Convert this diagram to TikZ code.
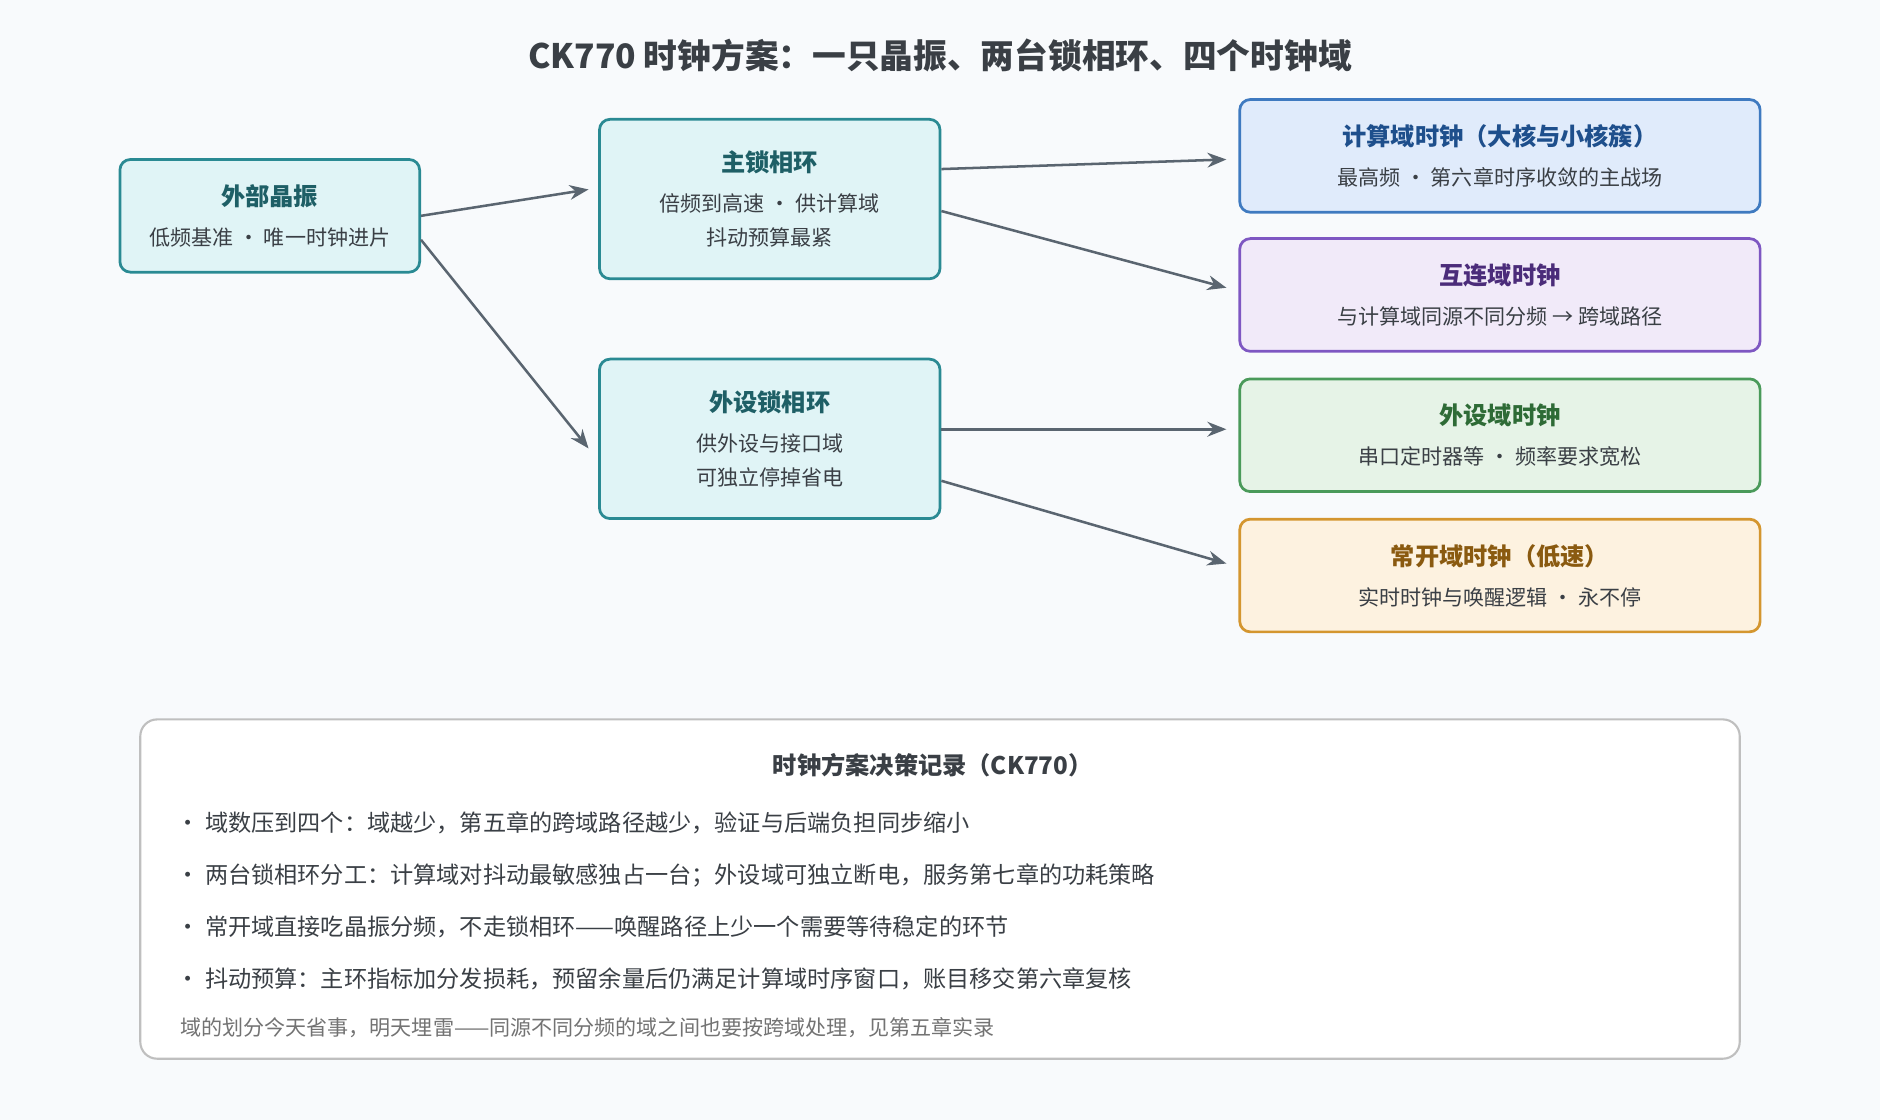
\documentclass[tikz,border=0pt]{standalone}
\usepackage{fontspec}
\setmainfont{Noto Sans CJK SC}
\usetikzlibrary{positioning,arrows.meta}
\definecolor{bgc}{HTML}{F8FAFC}
\definecolor{arr}{HTML}{5A6570}
\definecolor{txt}{HTML}{3A3F45}
\definecolor{tealF}{HTML}{E0F4F6}\definecolor{tealD}{HTML}{2A8A93}\definecolor{tealT}{HTML}{1E5F66}
\definecolor{blueF}{HTML}{E0EBFB}\definecolor{blueD}{HTML}{3F7AC0}\definecolor{blueT}{HTML}{1E4F8C}
\definecolor{purpF}{HTML}{F1EAF9}\definecolor{purpD}{HTML}{7E57C2}\definecolor{purpT}{HTML}{4B2C7A}
\definecolor{grnF}{HTML}{E6F3E7}\definecolor{grnD}{HTML}{4A9A5A}\definecolor{grnT}{HTML}{2E6B36}
\definecolor{orgF}{HTML}{FDF2E0}\definecolor{orgD}{HTML}{D4962F}\definecolor{orgT}{HTML}{8A5A10}
\tikzset{
  box/.style={draw=#1D, fill=#1F, line width=1.3pt, rounded corners=5pt, align=center, text=txt, font=\fontsize{10}{16}\selectfont},
  link/.style={draw=arr, line width=1.2pt, -{Stealth[length=9pt,width=7pt]}},
}
\newcommand{\hd}[2]{{\fontsize{11.5}{16}\selectfont\bfseries\color{#1}#2}\\[3pt]}
\begin{document}
\begin{tikzpicture}[x=0.02cm, y=-0.02cm]
  \fill[bgc] (0,0) rectangle (1568,934);
  \useasboundingbox (0,0) rectangle (1568,934);

  \node[font=\fontsize{16}{20}\selectfont\bfseries, text=txt] (title) at (784,46) {CK770 时钟方案：一只晶振、两台锁相环、四个时钟域};

  % sources and PLLs
  \node[box=teal, minimum width=250*0.02cm, minimum height=94*0.02cm] (xo) at (225,180) {\hd{tealT}{外部晶振}低频基准 · 唯一时钟进片};
  \node[box=teal, minimum width=284*0.02cm, minimum height=133*0.02cm] (pllm) at (642,166) {\hd{tealT}{主锁相环}倍频到高速 · 供计算域\\抖动预算最紧};
  \node[box=teal, minimum width=284*0.02cm, minimum height=133*0.02cm] (pllp) at (642,366) {\hd{tealT}{外设锁相环}供外设与接口域\\可独立停掉省电};

  % clock domains
  \node[box=blue, minimum width=434*0.02cm, minimum height=94*0.02cm] (dcpu) at (1251,130) {\hd{blueT}{计算域时钟（大核与小核簇）}最高频 · 第六章时序收敛的主战场};
  \node[box=purp, minimum width=434*0.02cm, minimum height=94*0.02cm] (dnoc) at (1251,246) {\hd{purpT}{互连域时钟}与计算域同源不同分频 → 跨域路径};
  \node[box=grn, minimum width=434*0.02cm, minimum height=94*0.02cm] (dper) at (1251,363) {\hd{grnT}{外设域时钟}串口定时器等 · 频率要求宽松};
  \node[box=org, minimum width=434*0.02cm, minimum height=94*0.02cm] (daon) at (1251,480) {\hd{orgT}{常开域时钟（低速）}实时时钟与唤醒逻辑 · 永不停};

  \draw[link] ([yshift=0pt]xo.east) -- ([xshift=-8*0.02cm,yshift=8*0.02cm]pllm.west);
  \draw[link] ([yshift=-20*0.02cm]xo.east) -- ([xshift=-8*0.02cm,yshift=-8*0.02cm]pllp.west);
  \draw[link] ([yshift=25*0.02cm]pllm.east) -- ([xshift=-10*0.02cm,yshift=-3*0.02cm]dcpu.west);
  \draw[link] ([yshift=-10*0.02cm]pllm.east) -- ([xshift=-10*0.02cm,yshift=6*0.02cm]dnoc.west);
  \draw[link] ([yshift=8*0.02cm]pllp.east) -- ([xshift=-10*0.02cm,yshift=5*0.02cm]dper.west);
  \draw[link] ([yshift=-35*0.02cm]pllp.east) -- ([xshift=-10*0.02cm,yshift=10*0.02cm]daon.west);

  % decision record
  \draw[draw=black!25, fill=white, line width=1pt, rounded corners=8pt] (117,600) rectangle (1451,883);
  \node[font=\fontsize{11.5}{14}\selectfont\bfseries, text=txt] (rtitle) at (778,638) {时钟方案决策记录（CK770）};
  \foreach \y/\t in {686/{· 域数压到四个：域越少，第五章的跨域路径越少，验证与后端负担同步缩小},
                     730/{· 两台锁相环分工：计算域对抖动最敏感独占一台；外设域可独立断电，服务第七章的功耗策略},
                     773/{· 常开域直接吃晶振分频，不走锁相环——唤醒路径上少一个需要等待稳定的环节},
                     816/{· 抖动预算：主环指标加分发损耗，预留余量后仍满足计算域时序窗口，账目移交第六章复核}}
    \node[anchor=west, font=\fontsize{11}{14}\selectfont, text=txt, inner sep=0pt] at (147,\y) {\t};
  \node[anchor=west, font=\fontsize{10}{14}\selectfont, text=black!55, inner sep=0pt] (rnote) at (150,857) {域的划分今天省事，明天埋雷——同源不同分频的域之间也要按跨域处理，见第五章实录};
\end{tikzpicture}
\end{document}
